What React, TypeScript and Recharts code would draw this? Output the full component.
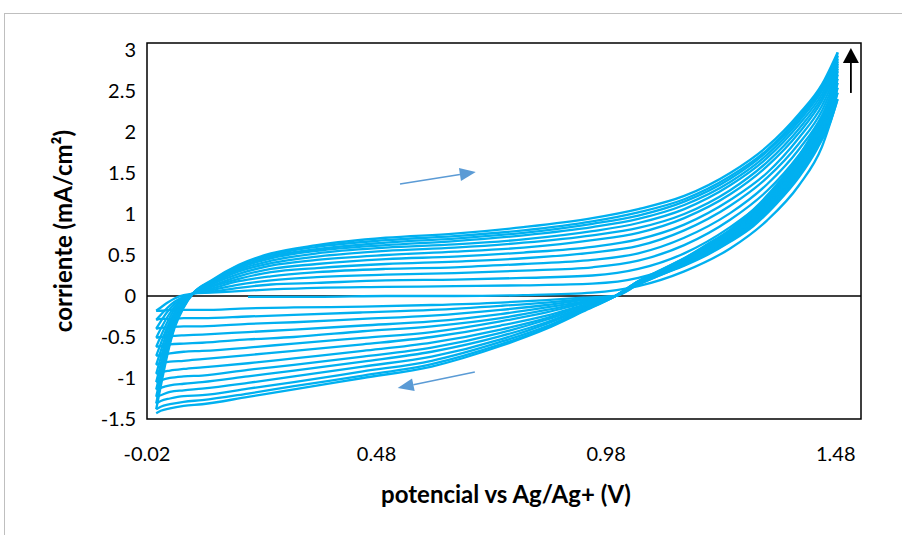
import React from 'react';
import { LineChart, Line, XAxis, YAxis, ReferenceLine, ReferenceArea, Label } from 'recharts';

const xTicks = [-0.02, 0.48, 0.98, 1.48];
const yTicks = [-1.5, -1, -0.5, 0, 0.5, 1, 1.5, 2, 2.5, 3];

// first (half) anodic scan, starting from open circuit potential
const firstScanPotential = [0.2, 0.35, 0.5, 0.65, 0.8, 0.95, 1.05, 1.15, 1.25, 1.33, 1.4, 1.45, 1.484];
const firstScanCurrent = [-0.01, -0.01, 0.0, 0.0, 0.01, 0.04, 0.12, 0.3, 0.58, 0.92, 1.35, 1.82, 2.4];

// anodic (forward) scans, cycles 2..14
const forwardPotential = [0, 0.01, 0.025, 0.04, 0.06, 0.08, 0.12, 0.18, 0.25, 0.35, 0.5, 0.65, 0.8, 0.95, 1.05, 1.15, 1.25, 1.33, 1.4, 1.45, 1.484];
const forwardCurrents = [
  [-0.18, -0.14, -0.08, -0.03, 0.01, 0.03, 0.04, 0.06, 0.08, 0.1, 0.11, 0.12, 0.13, 0.15, 0.22, 0.42, 0.74, 1.1, 1.55, 1.98, 2.48],
  [-0.29, -0.23, -0.14, -0.07, -0.01, 0.03, 0.05, 0.1, 0.14, 0.16, 0.19, 0.2, 0.22, 0.25, 0.33, 0.52, 0.84, 1.19, 1.63, 2.06, 2.54],
  [-0.4, -0.31, -0.19, -0.1, -0.02, 0.03, 0.07, 0.14, 0.19, 0.23, 0.26, 0.28, 0.31, 0.35, 0.43, 0.62, 0.93, 1.28, 1.72, 2.13, 2.6],
  [-0.51, -0.4, -0.25, -0.13, -0.03, 0.03, 0.09, 0.18, 0.24, 0.29, 0.33, 0.35, 0.39, 0.44, 0.52, 0.71, 1.01, 1.36, 1.79, 2.2, 2.65],
  [-0.62, -0.49, -0.31, -0.16, -0.04, 0.03, 0.11, 0.21, 0.29, 0.34, 0.39, 0.42, 0.46, 0.53, 0.61, 0.8, 1.1, 1.44, 1.86, 2.26, 2.7],
  [-0.73, -0.58, -0.37, -0.2, -0.06, 0.03, 0.12, 0.24, 0.33, 0.39, 0.45, 0.48, 0.53, 0.6, 0.69, 0.87, 1.17, 1.5, 1.93, 2.32, 2.74],
  [-0.84, -0.67, -0.42, -0.23, -0.07, 0.03, 0.14, 0.27, 0.37, 0.44, 0.5, 0.54, 0.59, 0.68, 0.77, 0.95, 1.24, 1.58, 1.99, 2.38, 2.77],
  [-0.95, -0.75, -0.48, -0.26, -0.08, 0.03, 0.15, 0.3, 0.4, 0.48, 0.55, 0.59, 0.65, 0.74, 0.83, 1.0, 1.29, 1.63, 2.04, 2.42, 2.8],
  [-1.05, -0.83, -0.53, -0.29, -0.1, 0.03, 0.16, 0.32, 0.43, 0.52, 0.59, 0.63, 0.69, 0.79, 0.89, 1.06, 1.35, 1.68, 2.09, 2.46, 2.83],
  [-1.14, -0.91, -0.58, -0.32, -0.11, 0.03, 0.17, 0.34, 0.46, 0.55, 0.62, 0.67, 0.74, 0.84, 0.94, 1.11, 1.39, 1.72, 2.13, 2.5, 2.86],
  [-1.23, -0.98, -0.62, -0.35, -0.12, 0.03, 0.18, 0.35, 0.48, 0.57, 0.65, 0.7, 0.77, 0.88, 0.98, 1.15, 1.43, 1.76, 2.16, 2.53, 2.89],
  [-1.31, -1.04, -0.67, -0.37, -0.13, 0.03, 0.18, 0.37, 0.5, 0.6, 0.68, 0.73, 0.8, 0.91, 1.02, 1.18, 1.46, 1.78, 2.19, 2.55, 2.93],
  [-1.38, -1.1, -0.7, -0.39, -0.14, 0.03, 0.19, 0.38, 0.52, 0.62, 0.71, 0.76, 0.84, 0.95, 1.06, 1.22, 1.5, 1.82, 2.22, 2.58, 2.97],
];

// cathodic (reverse) scans, cycles 1..14 (listed in increasing potential)
const reversePotential = [0, 0.01, 0.03, 0.06, 0.1, 0.2, 0.3, 0.45, 0.6, 0.75, 0.85, 0.93, 1.0, 1.05, 1.1, 1.15, 1.2, 1.25, 1.3, 1.35, 1.4, 1.44, 1.47, 1.484];
const reverseCurrents = [
  [-0.18, -0.18, -0.17, -0.17, -0.17, -0.15, -0.14, -0.13, -0.11, -0.08, -0.05, -0.02, 0.0, 0.14, 0.26, 0.37, 0.5, 0.66, 0.85, 1.12, 1.45, 1.8, 2.15, 2.4],
  [-0.29, -0.28, -0.28, -0.27, -0.27, -0.25, -0.23, -0.2, -0.17, -0.12, -0.08, -0.04, 0.0, 0.14, 0.26, 0.38, 0.51, 0.67, 0.87, 1.14, 1.47, 1.83, 2.19, 2.48],
  [-0.4, -0.39, -0.38, -0.37, -0.37, -0.34, -0.32, -0.28, -0.24, -0.17, -0.11, -0.05, 0.0, 0.15, 0.27, 0.38, 0.52, 0.68, 0.88, 1.15, 1.49, 1.85, 2.22, 2.54],
  [-0.51, -0.5, -0.49, -0.48, -0.47, -0.44, -0.41, -0.36, -0.31, -0.22, -0.14, -0.07, 0.0, 0.15, 0.27, 0.39, 0.53, 0.69, 0.9, 1.17, 1.51, 1.88, 2.25, 2.6],
  [-0.62, -0.61, -0.59, -0.58, -0.57, -0.53, -0.5, -0.43, -0.37, -0.27, -0.17, -0.08, 0.0, 0.15, 0.28, 0.4, 0.54, 0.71, 0.91, 1.19, 1.53, 1.9, 2.28, 2.65],
  [-0.73, -0.72, -0.7, -0.68, -0.67, -0.63, -0.58, -0.51, -0.44, -0.31, -0.2, -0.09, 0.0, 0.16, 0.28, 0.4, 0.55, 0.72, 0.93, 1.21, 1.55, 1.93, 2.31, 2.7],
  [-0.84, -0.82, -0.8, -0.79, -0.77, -0.72, -0.67, -0.59, -0.5, -0.36, -0.24, -0.11, 0.0, 0.16, 0.29, 0.41, 0.56, 0.73, 0.94, 1.22, 1.57, 1.95, 2.33, 2.74],
  [-0.95, -0.93, -0.91, -0.89, -0.87, -0.82, -0.76, -0.67, -0.57, -0.41, -0.27, -0.12, 0.0, 0.16, 0.29, 0.42, 0.57, 0.74, 0.96, 1.24, 1.59, 1.97, 2.35, 2.77],
  [-1.05, -1.03, -1.0, -0.98, -0.97, -0.9, -0.84, -0.74, -0.63, -0.45, -0.29, -0.14, 0.0, 0.17, 0.3, 0.43, 0.58, 0.75, 0.97, 1.26, 1.61, 1.99, 2.37, 2.8],
  [-1.14, -1.12, -1.09, -1.07, -1.05, -0.98, -0.91, -0.8, -0.68, -0.49, -0.32, -0.15, 0.0, 0.17, 0.3, 0.43, 0.59, 0.77, 0.99, 1.28, 1.63, 2.01, 2.39, 2.83],
  [-1.23, -1.21, -1.17, -1.15, -1.13, -1.06, -0.98, -0.86, -0.74, -0.53, -0.34, -0.16, 0.0, 0.17, 0.31, 0.44, 0.6, 0.78, 1.0, 1.29, 1.65, 2.03, 2.41, 2.86],
  [-1.31, -1.28, -1.25, -1.22, -1.21, -1.13, -1.05, -0.92, -0.79, -0.56, -0.37, -0.17, 0.0, 0.18, 0.31, 0.45, 0.61, 0.79, 1.02, 1.31, 1.67, 2.05, 2.43, 2.89],
  [-1.38, -1.35, -1.32, -1.29, -1.27, -1.19, -1.1, -0.97, -0.83, -0.59, -0.39, -0.18, 0.0, 0.18, 0.32, 0.46, 0.62, 0.8, 1.03, 1.33, 1.69, 2.07, 2.45, 2.93],
  [-1.43, -1.4, -1.37, -1.34, -1.32, -1.23, -1.14, -1.0, -0.86, -0.61, -0.4, -0.19, 0.0, 0.18, 0.32, 0.46, 0.63, 0.81, 1.05, 1.35, 1.71, 2.09, 2.47, 2.97],
];

// annotation arrows (data coordinates): [x1, y1, x2, y2]
const forwardArrow = [0.531, 1.366, 0.696, 1.512];
const reverseArrow = [0.694, -0.927, 0.526, -1.122];
const growthArrow = [1.513, 2.476, 1.513, 3.024];

const X_DOMAIN: [number, number] = [-0.02, 1.535];
const Y_DOMAIN: [number, number] = [-1.5, 3.085];

const toPoints = (xs: number[], ys: number[]) => xs.map((x, i) => ({ x, y: ys[i] }));

const SERIES_COLOR = '#00B0F0';
const FONT = 'Lato, "Open Sans", sans-serif';
const TICK_SIZE = 20;
const TITLE_SIZE = 24;

const arrowShape = (color: string, width: number, headLen: number, headW: number) => (props: any) => {
  const { x1, y1, x2, y2 } = props;
  const dx = x2 - x1;
  const dy = y2 - y1;
  const len = Math.hypot(dx, dy) || 1;
  const ux = dx / len;
  const uy = dy / len;
  const bx = x2 - ux * headLen;
  const by = y2 - uy * headLen;
  const px = -uy;
  const py = ux;
  return (
    <g>
      <line x1={x1} y1={y1} x2={bx} y2={by} stroke={color} strokeWidth={width} />
      <polygon
        points={`${x2},${y2} ${bx + (px * headW) / 2},${by + (py * headW) / 2} ${bx - (px * headW) / 2},${by - (py * headW) / 2}`}
        fill={color}
      />
    </g>
  );
};

const seg = (a: number[]) => [
  { x: a[0], y: a[1] },
  { x: a[2], y: a[3] },
];

export default function App() {
  const series: { key: string; data: { x: number; y: number }[] }[] = [];
  series.push({ key: 'f1', data: toPoints(firstScanPotential, firstScanCurrent) });
  reverseCurrents.forEach((ys, i) => {
    series.push({ key: `r${i + 1}`, data: toPoints(reversePotential, ys) });
    if (i < forwardCurrents.length) {
      series.push({ key: `f${i + 2}`, data: toPoints(forwardPotential, forwardCurrents[i]) });
    }
  });

  return (
    <div style={{ position: 'absolute', left: 0, top: 0, width: 902, height: 535, overflow: 'hidden', background: '#fff' }}>
      <div
        style={{
          position: 'absolute',
          left: 4,
          top: 13,
          width: 1000,
          height: 1000,
          border: '1px solid #BFBFBF',
        }}
      />
      <div style={{ position: 'absolute', left: 0, top: 0 }}>
        <LineChart width={902} height={535} margin={{ top: 43, right: 41, bottom: 0, left: 0 }}>
          <XAxis
            type="number"
            dataKey="x"
            domain={X_DOMAIN}
            ticks={xTicks}
            allowDataOverflow
            axisLine={false}
            tickLine={false}
            tickSize={0}
            tickMargin={28}
            height={116}
            interval={0}
            tick={{ fill: '#000', fontSize: TICK_SIZE, fontFamily: FONT }}
          >
            <Label
              content={() => (
                <text x={506} y={503} textAnchor="middle" fontFamily={FONT} fontSize={TITLE_SIZE} fontWeight="bold" fill="#000">
                  potencial vs Ag/Ag+ (V)
                </text>
              )}
            />
          </XAxis>
          <YAxis
            type="number"
            dataKey="y"
            domain={Y_DOMAIN}
            ticks={yTicks}
            allowDataOverflow
            axisLine={false}
            tickLine={false}
            tickSize={0}
            tickMargin={11}
            width={147}
            interval={0}
            tick={{ fill: '#000', fontSize: TICK_SIZE, fontFamily: FONT }}
          >
            <Label
              content={() => (
                <text
                  x={62}
                  y={231}
                  transform="rotate(-90 62 231)"
                  textAnchor="middle"
                  dominantBaseline="central"
                  fontFamily={FONT}
                  fontSize={TITLE_SIZE}
                  fontWeight="bold"
                  fill="#000"
                >
                  corriente (mA/cm²)
                </text>
              )}
            />
          </YAxis>
          <ReferenceArea
            x1={X_DOMAIN[0]}
            x2={X_DOMAIN[1]}
            y1={Y_DOMAIN[0]}
            y2={Y_DOMAIN[1]}
            fill="none"
            fillOpacity={0}
            stroke="#000"
            strokeWidth={1.5}
            ifOverflow="visible"
          />
          <ReferenceLine y={0} stroke="#000" strokeWidth={1.5} />
          {series.map((s) => (
            <Line
              key={s.key}
              data={s.data}
              dataKey="y"
              type="monotoneX"
              stroke={SERIES_COLOR}
              strokeWidth={2.3}
              dot={false}
              activeDot={false}
              isAnimationActive={false}
            />
          ))}
          <ReferenceLine segment={seg(forwardArrow)} ifOverflow="visible" shape={arrowShape('#5B9BD5', 1.5, 16, 13)} />
          <ReferenceLine segment={seg(reverseArrow)} ifOverflow="visible" shape={arrowShape('#5B9BD5', 1.5, 16, 13)} />
          <ReferenceLine segment={seg(growthArrow)} ifOverflow="visible" shape={arrowShape('#000', 1.8, 15, 16)} />
        </LineChart>
      </div>
    </div>
  );
}
